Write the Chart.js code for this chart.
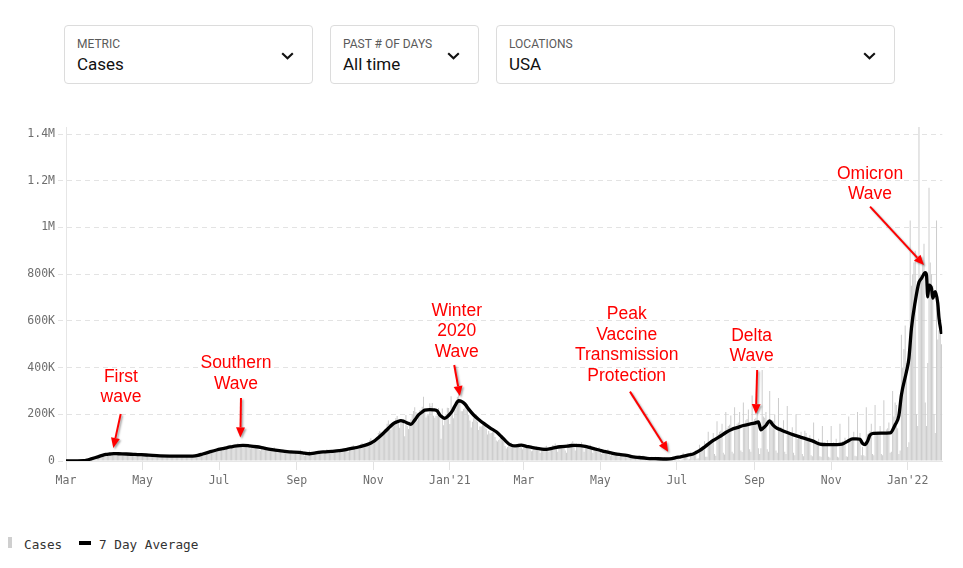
<!DOCTYPE html>
<html>
<head>
<meta charset="utf-8">
<script src="https://cdn.jsdelivr.net/npm/chart.js@4.4.0/dist/chart.umd.min.js"></script>
<style>
  html, body { margin:0; padding:0; background:#fff; }
  body { width:963px; height:568px; position:relative; overflow:hidden; font-family: Roboto, "Noto Sans", sans-serif; }
  .dd { position:absolute; top:25px; height:57px; border:1px solid #dcdcdc; border-radius:4px; background:#fff; box-sizing:content-box; }
  .dd .lab { position:absolute; left:12px; top:11px; font-size:12px; line-height:14px; color:#5a5a5a; letter-spacing:0; }
  .dd .val { position:absolute; left:12px; top:28px; font-size:17px; line-height:20px; color:#111; }
  .dd svg { position:absolute; right:18px; top:26px; }
  #wrap { position:absolute; left:0; top:100px; width:963px; height:400px; }
  .leg { position:absolute; top:537px; font-family:"DejaVu Sans Mono", monospace; font-size:12.7px; line-height:16px; color:#333; }
</style>
</head>
<body>
<div class="dd" style="left:64px;width:247px;">
  <div class="lab">METRIC</div><div class="val">Cases</div>
  <svg width="13" height="8" viewBox="0 0 13 8"><polyline points="1.2,1.2 6.5,6.3 11.8,1.2" fill="none" stroke="#111" stroke-width="2.1"/></svg>
</div>
<div class="dd" style="left:330px;width:147px;">
  <div class="lab">PAST # OF DAYS</div><div class="val">All time</div>
  <svg width="13" height="8" viewBox="0 0 13 8"><polyline points="1.2,1.2 6.5,6.3 11.8,1.2" fill="none" stroke="#111" stroke-width="2.1"/></svg>
</div>
<div class="dd" style="left:496px;width:397px;">
  <div class="lab">LOCATIONS</div><div class="val">USA</div>
  <svg width="13" height="8" viewBox="0 0 13 8"><polyline points="1.2,1.2 6.5,6.3 11.8,1.2" fill="none" stroke="#111" stroke-width="2.1"/></svg>
</div>

<div id="wrap"><canvas id="c" width="963" height="400"></canvas></div>

<div style="position:absolute;left:8px;top:537px;width:4px;height:11px;background:#cfcfcf;"></div>
<div class="leg" style="left:24px;">Cases</div>
<div style="position:absolute;left:79px;top:541px;width:12px;height:4px;background:#000;"></div>
<div class="leg" style="left:99px;">7 Day Average</div>

<script>
// ---- Daily reported cases (thousands), one row per week, weeks start Sunday Mar 1, 2020 ----
const cases2020a = [ // Mar 1 - May 30, 2020
  0,0,0,0,0,0,0,
  0.1,0.1,0.2,0.3,0.4,0.5,0.7,
  0.8,1.2,1.5,2.5,4.5,6,7.5,
  9,10,11,13,16,18,19,
  20,21,24,26,29,32,33,
  28,29,30,31,33,33,30,
  27,26,27,30,31,32,29,
  27,27,28,30,32,31,29,
  26,24,25,27,30,33,29,
  25,23,23,25,27,28,26,
  21,19,21,21,26,26,24,
  19,22,21,21,25,25,23,
  19,18,19,20,22,24,24
];
const cases2020b = [ // May 31 - Aug 29, 2020
  20,21,20,21,22,23,22,
  18,17,19,21,23,25,25,
  20,19,24,26,27,32,32,
  27,30,35,38,39,45,43,
  40,41,44,51,55,55,44,
  47,49,56,62,64,70,60,
  58,60,64,67,76,72,64,
  60,61,64,69,71,72,62,
  54,57,61,66,67,63,56,
  47,45,54,54,57,61,54,
  47,48,54,54,53,59,49,
  40,36,44,46,45,49,44,
  33,34,38,42,44,46,40
];
const cases2020c = [ // Aug 30 - Nov 28, 2020
  33,36,39,37,42,48,40,
  29,23,26,32,35,45,38,
  31,33,35,37,42,45,40,
  34,37,38,38,42,50,43,
  33,32,40,38,43,47,44,
  35,38,42,49,55,56,46,
  43,40,51,57,63,68,55,
  49,58,60,61,73,78,59,
  59,65,72,78,89,97,79,
  75,84,91,103,120,127,125,
  108,118,137,140,160,173,158,
  134,156,158,169,184,193,170,
  142,170,176,179,106,197,150
];
const cases2020d = [ // Nov 29, 2020 - Feb 27, 2021
  137,157,179,198,214,230,210,
  173,191,217,219,232,275,215,
  186,196,196,247,235,248,194,
  185,194,195,227,190,95,225,
  153,176,198,228,227,158,277,
  208,183,233,258,275,300,258,
  213,213,223,228,233,243,198,
  173,143,168,183,188,190,168,
  133,148,148,153,163,165,138,
  113,128,118,120,123,133,103,
  88,83,90,95,103,100,85,
  64,54,60,70,75,78,68,
  56,55,70,74,76,74,59
];
const cases2021a = [ // Feb 28 - May 29, 2021
  50,57,58,66,68,65,50,
  42,45,55,55,62,60,45,
  35,55,50,60,62,65,45,
  40,60,53,68,69,75,55,
  40,65,60,70,70,63,45,
  35,75,65,75,78,85,60,
  45,75,70,75,72,80,60,
  40,70,65,65,65,70,50,
  35,60,55,58,56,60,40,
  30,50,45,48,45,50,32,
  22,40,35,38,35,38,25,
  18,32,30,30,29,30,20,
  15,28,23,24,23,25,14
];
const cases2021b = [ // May 30 - Aug 28, 2021
  9,10,22,17,18,24,12,
  8,20,15,15,15,18,8,
  7,18,12,13,13,16,6,
  5,17,11,12,12,15,5,
  5,20,13,14,15,17,4,
  3,5,35,18,20,28,6,
  8,40,25,28,30,45,10,
  12,70,48,55,60,85,18,
  18,125,80,90,95,120,30,
  22,170,115,125,130,160,35,
  28,210,140,150,155,195,40,
  32,230,150,160,165,210,45,
  38,250,160,175,180,220,50
];
const cases2021c = [ // Aug 29 - Nov 27, 2021
  40,280,170,180,185,225,55,
  30,55,390,190,185,210,50,
  40,300,155,175,170,200,45,
  35,270,130,145,140,175,40,
  30,235,115,120,115,145,35,
  25,200,95,105,95,125,30,
  20,130,120,95,85,110,25,
  20,165,75,85,80,95,20,
  18,150,70,80,75,90,18,
  15,150,70,80,75,95,18,
  15,160,70,85,85,100,20,
  18,190,90,100,95,125,22,
  20,210,100,120,25,60,25
];
const cases2021d = [ // Nov 28, 2021 - Jan 28, 2022
  20,230,115,120,130,160,30,
  25,240,115,125,125,150,30,
  25,260,120,135,140,165,35,
  40,300,190,250,240,140,30,
  45,540,400,480,580,420,60,
  80,1030,750,800,850,900,200,
  150,1430,800,780,850,930,250,
  150,420,1170,850,800,750,200,
  120,1030,520,560,540,500
];

// ---- 7 day average (thousands), read at these day numbers (day 0 = Mar 1, 2020) ----
const avgDays = [0,14,17,20,23,26,29,32,35,38,42,48,55,60,66,75,85,95,101,105,109,114,120,126,131,136,141,146,152,158,163,170,178,186,190,194,198,205,212,218,224,229,234,240,245,249,253,257,261,264,267,270,273,275,278,281,284,286,290,293,296,298,300,302,305,308,311,313,315,318,321,325,329,333,338,343,347,351,354,357,360,363,367,372,377,383,388,394,400,405,410,415,420,425,430,436,441,447,452,457,463,470,479,483,486,490,495,500,505,510,516,521,526,531,535,540,545,549,552,554,556,558,561,563,566,570,575,580,585,590,595,601,606,612,617,620,623,627,630,633,635,637,639,641,644,650,657,661,664,666,670,672,674,677,680,682,685,686,687,688,690,691,693,695,696,698];
const avgCases = [0,1,4,9,14,19,24,28,30,32,31,30,28,27,25,22,21,20.5,21,24,30,38,47,54,60,65,67,65,61,55,50,44,39,37,34,31,34,39,41,44,50,55,61,70,83,100,119,140,160,168,173,168,161,157,175,197,210,218,220,219,214,197,188,183,195,215,245,258,256,244,222,197,178,161,142,125,105,83,70,65,66,68,63,57,53,50,55,61,64,67,66,62,54,47,40,33,28,24,18,15,11.6,10,8.6,10,14,18,24,30,44,64,88,104,122,136,143,152,158,162,167,133,142,152,172,158,143,133,122,112,103,95,86,72,70,70,71,75,84,95,95,93,75,70,85,111,118,119,120,155,195,283,382,440,568,682,765,782,806,796,703,753,739,697,725,675,611,544];

// ---- axis ticks ----
const monthTickDays = [0,61,122,184,245,306,365,426,487,549,610,671];
const monthTickLabels = ['Mar','May','Jul','Sep','Nov',"Jan'21",'Mar','May','Jul','Sep','Nov',"Jan'22"];
const yTickValues = [0,200,400,600,800,1000,1200,1400];
const yTickLabels = ['0','200K','400K','600K','800K','1M','1.2M','1.4M'];
const yMax = 1430;

// ---- annotations: text anchor [day, value], arrow from/to [day, value] ----
const noteTexts = [['First','wave'],['Southern','Wave'],['Winter','2020','Wave'],['Peak','Vaccine','Transmission','Protection'],['Delta','Wave'],['Omicron','Wave']];
const noteAt   = [[43.8,360],[135.5,418],[311.5,642],[447,629],[546.6,536],[641,1229]];
const noteFrom = [[43.6,201],[139.5,270],[309.5,411],[449.6,297],[551,390],[641,1089]];
const noteTo   = [[37.7,56],[139,101],[314,278],[480,40],[550,201],[684,839]];

const dailyCases = [].concat(cases2020a, cases2020b, cases2020c, cases2020d, cases2021a, cases2021b, cases2021c, cases2021d);
const barData = dailyCases.map((v, i) => ({x: i, y: v}));
const lineData = avgDays.map((d, i) => ({x: d, y: avgCases[i]}));

const notesPlugin = {
  id: 'notes',
  afterDatasetsDraw(chart) {
    const {ctx} = chart, xs = chart.scales.x, ys = chart.scales.y;
    ctx.save();
    noteTexts.forEach((lines, k) => {
      const x1 = xs.getPixelForValue(noteFrom[k][0]), y1 = ys.getPixelForValue(noteFrom[k][1]);
      const x2 = xs.getPixelForValue(noteTo[k][0]), y2 = ys.getPixelForValue(noteTo[k][1]);
      const a = Math.atan2(y2 - y1, x2 - x1), head = 10, hw = 4.5;
      const bx = x2 - head * Math.cos(a), by = y2 - head * Math.sin(a);
      ctx.shadowColor = 'rgba(0,0,0,0.35)'; ctx.shadowBlur = 2; ctx.shadowOffsetX = 1.5; ctx.shadowOffsetY = 1.5;
      ctx.strokeStyle = '#ff0000'; ctx.fillStyle = '#ff0000'; ctx.lineWidth = 2;
      ctx.beginPath(); ctx.moveTo(x1, y1); ctx.lineTo(bx, by); ctx.stroke();
      ctx.beginPath(); ctx.moveTo(x2, y2);
      ctx.lineTo(bx + hw * Math.sin(a), by - hw * Math.cos(a));
      ctx.lineTo(bx - hw * Math.sin(a), by + hw * Math.cos(a));
      ctx.closePath(); ctx.fill();
      ctx.shadowColor = 'rgba(0,0,0,0)'; ctx.shadowBlur = 0; ctx.shadowOffsetX = 0; ctx.shadowOffsetY = 0;
      ctx.font = '17.5px "Liberation Sans", Arial, sans-serif';
      ctx.textAlign = 'center'; ctx.textBaseline = 'middle';
      const tx = xs.getPixelForValue(noteAt[k][0]), ty = ys.getPixelForValue(noteAt[k][1]);
      lines.forEach((t, i) => ctx.fillText(t, tx, ty + i * 20.6));
    });
    ctx.restore();
  }
};

const monoFont = {family: '"DejaVu Sans Mono", monospace', size: 11.5};
const tickColor = '#6e6e6e';

new Chart(document.getElementById('c'), {
  type: 'bar',
  data: {
    datasets: [
      {type: 'line', label: '7 Day Average', data: lineData, borderColor: '#000', backgroundColor: '#000',
       borderWidth: 3.3, pointRadius: 0, cubicInterpolationMode: 'monotone', order: 0},
      {type: 'bar', label: 'Cases', data: barData, backgroundColor: '#cdcdcd',
       barPercentage: 0.9, categoryPercentage: 0.9, order: 1}
    ]
  },
  options: {
    responsive: false,
    animation: false,
    layout: {padding: {top: 27, right: 20.7, left: 0, bottom: 0}},
    plugins: {legend: {display: false}, tooltip: {enabled: false}},
    scales: {
      x: {
        type: 'linear', min: 0, max: 698.6, offset: false, bounds: 'data',
        afterBuildTicks: s => { s.ticks = monthTickDays.map(v => ({value: v})); },
        afterFit: s => { s.height = 39; },
        ticks: {autoSkip: false, maxRotation: 0, minRotation: 0, padding: 4, color: tickColor, font: monoFont,
                callback: v => monthTickLabels[monthTickDays.indexOf(v)]},
        grid: {offset: false, drawOnChartArea: false, drawTicks: true, tickLength: 9, tickColor: '#e2e2e2', color: '#e2e2e2'},
        border: {display: true, color: '#e6e6e6', width: 1}
      },
      y: {
        type: 'linear', min: 0, max: yMax, bounds: 'data',
        afterBuildTicks: s => { s.ticks = yTickValues.map(v => ({value: v})); },
        afterFit: s => { s.width = 66; },
        ticks: {autoSkip: false, padding: 3, color: tickColor, font: monoFont,
                callback: v => yTickLabels[yTickValues.indexOf(v)]},
        grid: {color: '#e3e3e3', drawTicks: true, tickLength: 8, tickColor: '#e3e3e3', tickBorderDash: [5, 4]},
        border: {display: true, color: '#e6e6e6', width: 1, dash: [5, 4]}
      }
    }
  },
  plugins: [notesPlugin]
});
</script>
</body>
</html>
